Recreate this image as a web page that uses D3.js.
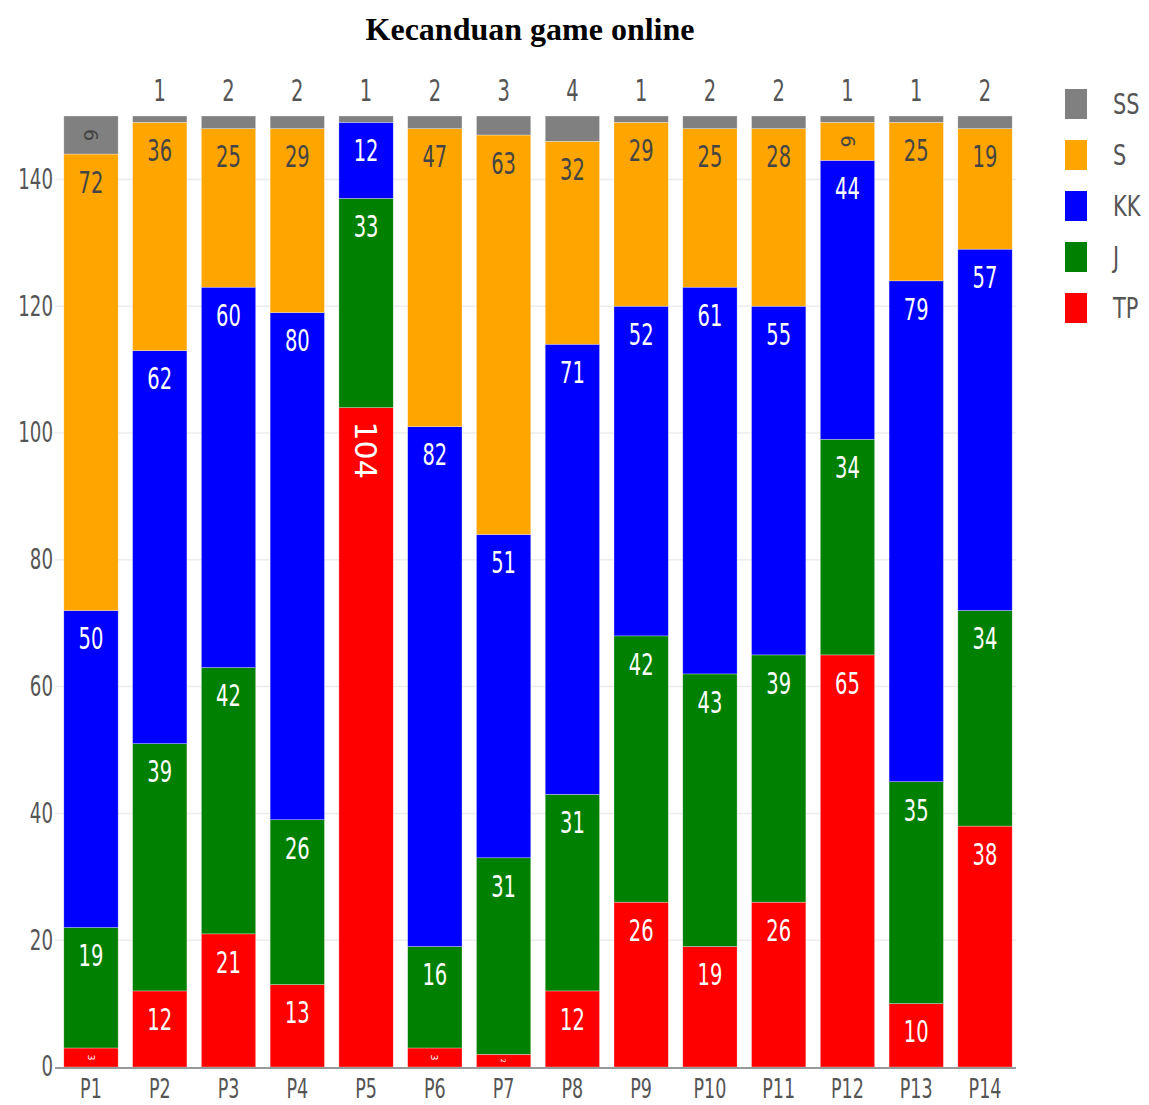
<!DOCTYPE html>
<html>
<head>
<meta charset="utf-8">
<script src="https://cdn.jsdelivr.net/npm/d3@7"></script>
<style>
	body { margin: 0; background: #fff; }
	svg { display: block; }
</style>
</head>
<body>
<svg width="1149" height="1105"></svg>
<script>
'use strict';

// data, one array per series (bottom to top)
var categories = ['P1', 'P2', 'P3', 'P4', 'P5', 'P6', 'P7', 'P8', 'P9', 'P10', 'P11', 'P12', 'P13', 'P14'];
var TP = [3, 12, 21, 13, 104, 3, 2, 12, 26, 19, 26, 65, 10, 38];
var J  = [19, 39, 42, 26, 33, 16, 31, 31, 42, 43, 39, 34, 35, 34];
var KK = [50, 62, 60, 80, 12, 82, 51, 71, 52, 61, 55, 44, 79, 57];
var S  = [72, 36, 25, 29, 0, 47, 63, 32, 29, 25, 28, 6, 25, 19];
var SS = [6, 1, 2, 2, 1, 2, 3, 4, 1, 2, 2, 1, 1, 2];
var seriesNames = ['TP', 'J', 'KK', 'S', 'SS'];
var yTicks = [0, 20, 40, 60, 80, 100, 120, 140];

var colors = { TP: '#ff0000', J: '#008000', KK: '#0000ff', S: '#ffa500', SS: '#808080' };
var values = { TP: TP, J: J, KK: KK, S: S, SS: SS };

var svg = d3.select('svg');
var FONT = '"DejaVu Sans", sans-serif';
var SQUEEZE = 0.65; // the original picture is squeezed sideways, so is its text

var x = d3.scaleBand()
	.domain(categories)
	.range([56.6, 1019.4])
	.paddingInner(0.21)
	.paddingOuter(0.105);

var y = d3.scaleLinear()
	.domain([0, 150])
	.range([1067, 116]);

// stack the series
var rows = categories.map(function (c, i) {
	var r = { cat: c };
	seriesNames.forEach(function (s) { r[s] = values[s][i]; });
	return r;
});
var stacked = d3.stack().keys(seriesNames)(rows);

// title
svg.append('text')
	.attr('x', 530)
	.attr('y', 40)
	.attr('text-anchor', 'middle')
	.attr('font-family', '"Liberation Serif", "Times New Roman", serif')
	.attr('font-weight', 'bold')
	.attr('font-size', 32)
	.text('Kecanduan game online');

// grid lines
svg.append('g').attr('class', 'grid')
	.selectAll('line')
	.data(yTicks.slice(1))
	.enter().append('line')
	.attr('x1', 55).attr('x2', 1016)
	.attr('y1', function (d) { return y(d); })
	.attr('y2', function (d) { return y(d); })
	.attr('stroke', '#ececec')
	.attr('stroke-width', 1.5);

// y tick labels (no axis line in the original)
var yAxis = svg.append('g')
	.attr('transform', 'translate(53,0)')
	.call(d3.axisLeft(y).tickValues(yTicks).tickSize(0).tickPadding(0));
yAxis.select('.domain').remove();
yAxis.selectAll('text')
	.attr('font-family', FONT)
	.attr('font-size', 28)
	.attr('fill', '#555')
	.attr('transform', 'scale(' + SQUEEZE + ',1)');

// bars
var layers = svg.append('g').attr('class', 'bars')
	.selectAll('g.layer')
	.data(stacked)
	.enter().append('g')
	.attr('class', 'layer')
	.attr('fill', function (d) { return colors[d.key]; });

layers.selectAll('rect')
	.data(function (d) { return d; })
	.enter().append('rect')
	.attr('x', function (d) { return x(d.data.cat); })
	.attr('width', x.bandwidth())
	.attr('y', function (d) { return y(d[1]); })
	.attr('height', function (d) { return y(d[0]) - y(d[1]); })
	.attr('stroke', 'rgba(255,255,255,0.5)')
	.attr('stroke-width', 0.6);

// baseline
svg.append('line')
	.attr('x1', 55).attr('x2', 1016)
	.attr('y1', y(0) + 1).attr('y2', y(0) + 1)
	.attr('stroke', '#999')
	.attr('stroke-width', 2);

// x labels
var xAxis = svg.append('g')
	.attr('transform', 'translate(0,' + (y(0) + 10) + ')')
	.call(d3.axisBottom(x).tickSize(0).tickPadding(0));
xAxis.select('.domain').remove();
xAxis.selectAll('text')
	.attr('font-family', FONT)
	.attr('font-size', 27)
	.attr('fill', '#555')
	.attr('y', 0)
	.attr('dy', '0.78em')
	.attr('transform', 'scale(' + SQUEEZE + ',1)');

// value labels
var labels = svg.append('g').attr('class', 'labels');
stacked.forEach(function (layer, li) {
	var isTop = li === stacked.length - 1;
	layer.forEach(function (d) {
		var v = d[1] - d[0];
		if (v <= 0) {
			return;
		}
		var cx = x(d.data.cat) + x.bandwidth() / 2;
		var h = y(d[0]) - y(d[1]);
		var cy = (y(d[0]) + y(d[1])) / 2;
		var fill = layer.key === 'S' || layer.key === 'SS' ? '#444' : '#fff';
		var txt = String(v);
		var g = labels.append('g');
		var squeeze = SQUEEZE;
		if (isTop && h < 32) {
			// too small: put it above the bar
			g.attr('transform', 'translate(' + cx + ',90)');
			fill = '#555';
		} else if (txt.length >= 3) {
			// long number: turned sideways, near the top of the segment
			squeeze = 1;
			g.attr('transform', 'translate(' + cx + ',' + (y(d[1]) + 14 + txt.length * 9.5) + ') rotate(90)');
		} else if (h < 45) {
			// short segment: turned and shrunk to fit
			var k = Math.min(1, h / 60);
			squeeze = 1;
			g.attr('transform', 'translate(' + cx + ',' + cy + ') rotate(90) scale(' + k + ')');
		} else {
			// horizontal labels sit near the top of their segment
			g.attr('transform', 'translate(' + cx + ',' + (y(d[1]) + 28) + ')');
		}
		g.append('text')
			.attr('text-anchor', 'middle')
			.attr('dy', '0.36em')
			.attr('font-family', FONT)
			.attr('font-size', 30)
			.attr('fill', fill)
			.attr('transform', 'scale(' + squeeze + ',1)')
			.text(txt);
	});
});

// legend
var legend = svg.append('g').attr('class', 'legend')
	.selectAll('g')
	.data(seriesNames.slice().reverse())
	.enter().append('g')
	.attr('transform', function (d, i) { return 'translate(1065,' + (89 + i * 51) + ')'; });
legend.append('rect')
	.attr('width', 22)
	.attr('height', 30)
	.attr('fill', function (d) { return colors[d]; });
legend.append('text')
	.attr('x', 48)
	.attr('y', 15)
	.attr('dy', '0.36em')
	.attr('font-family', FONT)
	.attr('font-size', 29)
	.attr('fill', '#555')
	.attr('transform', 'scale(0.72,1)')
	.attr('transform-origin', '48 15')
	.text(function (d) { return d; });
</script>
</body>
</html>
